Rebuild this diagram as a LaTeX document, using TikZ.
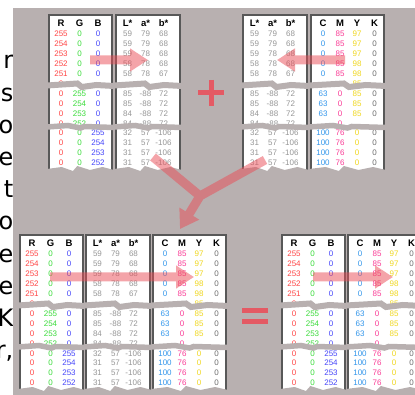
\documentclass[tikz,border=0pt]{standalone}
\usepackage{fontspec}
\setmainfont{Liberation Sans}
\newfontfamily\dejavu{DejaVu Sans}
\usetikzlibrary{arrows.meta}
\definecolor{bg}{RGB}{184,176,176}
\definecolor{edge}{RGB}{88,88,88}
\definecolor{cR}{RGB}{255,70,70}
\definecolor{cG}{RGB}{60,220,60}
\definecolor{cB}{RGB}{70,70,250}
\definecolor{cL}{RGB}{150,150,150}
\definecolor{cC}{RGB}{50,150,235}
\definecolor{cM}{RGB}{250,60,150}
\definecolor{cY}{RGB}{240,215,30}
\definecolor{cK}{RGB}{110,110,110}
\definecolor{arr}{RGB}{235,75,85}
\definecolor{sign}{RGB}{228,90,100}
\tikzset{
  hdr/.style={font=\fontsize{9.5}{10}\selectfont\bfseries, inner sep=0pt, anchor=base},
  num/.style={font=\fontsize{8}{8}\selectfont, inner sep=0pt, anchor=base},
  cardedge/.style={draw=edge, line width=1.5pt},
  bandline/.style={draw=bg, line width=6pt, line join=miter},
  bandlinetwo/.style={draw=bg, line width=5.5pt, line join=miter},
  bigarrow/.style={draw=arr, line width=9pt, -{Triangle[width=22pt,length=18pt]}},
  signline/.style={draw=sign, line width=5pt},
  margintext/.style={font=\dejavu\fontsize{24}{24}\selectfont, inner sep=0pt, anchor=base east}
}
% card frame: x, y, width
\newcommand\mkcard[3]{%
  \fill[white] (#1,#2) rectangle ++(#3,160);
  \draw[cardedge] (#1,#2+160) -- (#1,#2) -- (#1+#3,#2) -- (#1+#3,#2+160);
}
% column: x, y, colour, header, list macro, name
\newcommand\mkcol[6]{%
  \node[hdr] (#6) at (#1,#2+11.5) {#4};
  \foreach \v [count=\i from 0] in #5 {
    \node[num, text=#3] (#6-\i) at (#1,#2+22+9.9*\i) {\v};
  }
}
% torn gaps and ragged bottom: x, y, width
\newcommand\mkbands[3]{%
  \draw[bandline] (#1-2,#2+70.5) -- (#1+0.45*#3,#2+68.5) -- (#1+0.52*#3,#2+72) -- (#1+0.75*#3,#2+70) -- (#1+#3+2,#2+71);
  \draw[bandlinetwo] (#1-2,#2+112) -- (#1+0.3*#3,#2+110.5) -- (#1+0.5*#3,#2+113) -- (#1+0.56*#3,#2+111.5) -- (#1+#3+2,#2+112.5);
  \fill[bg] (#1-2,#2+154) -- (#1+0.2*#3,#2+152) -- (#1+0.38*#3,#2+156) -- (#1+0.45*#3,#2+151) -- (#1+0.65*#3,#2+155) -- (#1+0.85*#3,#2+152) -- (#1+#3+2,#2+155) -- (#1+#3+2,#2+172) -- (#1-2,#2+172) -- cycle;
}
\newcommand\listR{255,254,253,252,251,0,0,0,0,0,0,0,0,0}
\newcommand\listG{0,0,0,0,0,,255,254,253,252,0,0,0,0}
\newcommand\listB{0,0,0,0,0,,0,0,0,0,255,254,253,252}
\newcommand\listL{59,59,59,58,58,,85,85,84,84,32,31,31,31}
\newcommand\listA{79,79,78,78,78,,-88,-88,-88,-88,57,57,57,57}
\newcommand\listBb{68,68,68,68,67,,72,72,72,72,-106,-106,-106,-106}
\newcommand\listC{0,0,0,0,0,,63,63,63,,100,100,100,100}
\newcommand\listM{85,85,85,85,85,,0,0,0,0,76,76,76,76}
\newcommand\listY{97,97,97,98,98,85,85,85,85,,0,0,0,0}
\newcommand\listK{0,0,0,0,0,,0,0,0,,0,0,0,0}
% table groups: x, y, name prefix
\newcommand\rgbtable[3]{%
  \mkcard{#1}{#2}{63}
  \mkcol{#1+12}{#2}{cR}{R}{\listR}{#3r}
  \mkcol{#1+30.5}{#2}{cG}{G}{\listG}{#3g}
  \mkcol{#1+49}{#2}{cB}{B}{\listB}{#3b}
  \mkbands{#1}{#2}{63}
}
\newcommand\labtable[3]{%
  \mkcard{#1}{#2}{64}
  \mkcol{#1+11.5}{#2}{cL}{L*}{\listL}{#3l}
  \mkcol{#1+29.5}{#2}{cL}{a*}{\listA}{#3a}
  \mkcol{#1+47.5}{#2}{cL}{b*}{\listBb}{#3bb}
  \mkbands{#1}{#2}{64}
}
\newcommand\cmyktable[3]{%
  \mkcard{#1}{#2}{73}
  \mkcol{#1+12}{#2}{cC}{C}{\listC}{#3c}
  \mkcol{#1+29}{#2}{cM}{M}{\listM}{#3m}
  \mkcol{#1+46}{#2}{cY}{Y}{\listY}{#3y}
  \mkcol{#1+63.5}{#2}{cK}{K}{\listK}{#3k}
  \mkbands{#1}{#2}{73}
}
\begin{document}
\begin{tikzpicture}[x=1pt,y=-1pt]
\useasboundingbox (0,0) rectangle (415,395);
\clip (0,0) rectangle (415,395);
\fill[white] (0,0) rectangle (415,395);
% cut-off text at the left margin
\foreach \t [count=\k from 0] in {r,s,o,e,t,o,e,e,K,{r,}} {
  \node[margintext] (m\k) at (13.5,69+32.2*\k) {\t};
}
\fill[bg] (13,8) rectangle (415,395);
% group 1
\rgbtable{49}{15}{a}
\labtable{116}{15}{b}
% group 2
\labtable{243}{15}{c}
\cmyktable{311}{15}{d}
% group 3
\rgbtable{20}{235}{e}
\labtable{86}{235}{f}
\cmyktable{153}{235}{g}
% group 4
\rgbtable{282}{235}{h}
\cmyktable{348}{235}{i}
% arrows
\coordinate (a1s) at (90,60);  \coordinate (a1e) at (148,60);
\coordinate (a2s) at (345,60); \coordinate (a2e) at (277,60);
\coordinate (a3s) at (50,277); \coordinate (a3e) at (194,277);
\coordinate (a4s) at (313,277); \coordinate (a4e) at (393,277);
\coordinate (yl) at (153,157); \coordinate (yr) at (265,160);
\coordinate (yj) at (200,196); \coordinate (yt) at (180,229);
\begin{scope}[transparency group, opacity=0.5]
  \draw[bigarrow] (a1s) -- (a1e);
\end{scope}
\begin{scope}[transparency group, opacity=0.5]
  \draw[bigarrow] (a2s) -- (a2e);
\end{scope}
\begin{scope}[transparency group, opacity=0.5]
  \draw[bigarrow] (a3s) -- (a3e);
\end{scope}
\begin{scope}[transparency group, opacity=0.5]
  \draw[bigarrow] (a4s) -- (a4e);
\end{scope}
\begin{scope}[transparency group, opacity=0.5]
  \draw[draw=arr, line width=9pt] (yl) -- (yj);
  \draw[bigarrow] (yr) -- (yj) -- (yt);
\end{scope}
% plus and equals
\draw[signline] (198,93) -- (224,93);
\draw[signline] (211,80) -- (211,106);
\draw[signline] (242,310.5) -- (268,310.5);
\draw[signline] (242,321.5) -- (268,321.5);
\end{tikzpicture}
\end{document}
